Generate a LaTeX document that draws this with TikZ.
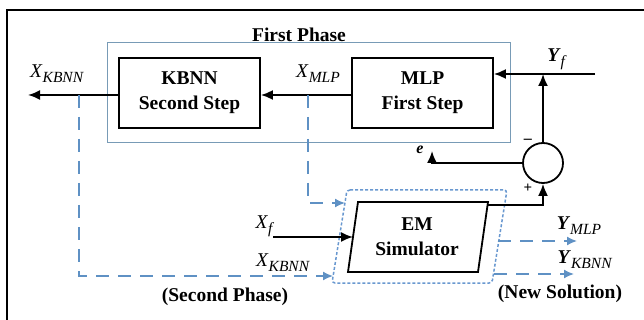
\documentclass[tikz,border=0pt]{standalone}
\usepackage{fontspec}
\setmainfont{Liberation Serif}
\usetikzlibrary{arrows.meta}
\definecolor{dblue}{RGB}{95,145,196}
\definecolor{pblue}{RGB}{120,155,182}
\definecolor{oblue}{RGB}{105,152,208}
\newcommand{\lblX}[2]{\textit{#1}\raisebox{-5pt}{\fontsize{15.5}{15}\selectfont\textit{#2}}}
\newcommand{\lblY}[2]{\textbf{\textit{#1}}\raisebox{-5pt}{\fontsize{15.5}{15}\selectfont\textit{#2}}}
\begin{document}
\begin{tikzpicture}[x=1pt,y=-1pt,
  blk/.style={draw=black,line width=1.8pt},
  boxnode/.style={draw=black,line width=1.8pt,minimum width=141pt,minimum height=70pt,align=center,inner sep=0pt,font=\fontsize{19.5}{25}\selectfont\bfseries},
  boldtxt/.style={align=center,inner sep=0pt,font=\fontsize{19.5}{25}\selectfont\bfseries},
  lab/.style={inner sep=0pt,font=\fontsize{19.5}{22}\selectfont},
  arr/.style={draw=black,line width=1.8pt,-{Latex[length=12pt,width=10pt]}},
  darr/.style={draw=dblue,line width=1.6pt,dash pattern=on 13pt off 9pt,-{Latex[length=10pt,width=9pt]}}]
\useasboundingbox (0,0) rectangle (644,320);
% frame
\draw[line width=2.2pt] (7,320) -- (7,10) -- (644,10);
% first phase box
\node[draw=pblue,line width=1pt,minimum width=403pt,minimum height=100pt,inner sep=0pt] (phase) at (308.5,93) {};
\node[boldtxt] (fptxt) at (299,35) {First Phase};
% blocks
\node[boxnode] (kbnn) at (189.5,93) {KBNN\\Second Step};
\node[boxnode] (mlp) at (422.5,93) {MLP\\First Step};
\node[draw=black,line width=1.8pt,circle,minimum size=40pt,inner sep=0pt] (sum) at (543,163) {};
% EM simulator parallelogram
\coordinate (emTL) at (358,202);
\coordinate (emTR) at (488,202);
\coordinate (emBR) at (478,272);
\coordinate (emBL) at (348,272);
\draw[blk] (emTL) -- (emTR) -- (emBR) -- (emBL) -- cycle;
\node[boldtxt] (em) at (417,237) {EM\\Simulator};
% dotted outline
\coordinate (oTL) at (347,190);
\coordinate (oTR) at (507,190);
\coordinate (oBR) at (492,283);
\coordinate (oBL) at (332,283);
\draw[draw=oblue,line width=1.5pt,dash pattern=on 3pt off 2pt,rounded corners=3pt] (oTL) -- (oTR) -- (oBR) -- (oBL) -- cycle;
% coordinates
\coordinate (xout) at (28,95);
\coordinate (yin) at (595,74);
\coordinate (jy) at (543,74);
\coordinate (eend) at (432,151);
\coordinate (emout) at (487.5,205);
\coordinate (xf) at (273,237);
\coordinate (emin) at (353,237);
\coordinate (dm) at (308,95);
\coordinate (dk) at (79,95);
\coordinate (din1) at (345,203);
\coordinate (din2) at (333,276);
\coordinate (dout1) at (498,241);
\coordinate (dout1e) at (577,241);
\coordinate (dout2) at (494,274);
\coordinate (dout2e) at (574,274);
% black connectors
\draw[arr] (mlp.west |- 0,95) -- (kbnn.east |- 0,95);
\draw[arr] (kbnn.west |- xout) -- (xout);
\draw[arr] (yin) -- (mlp.east |- yin);
\draw[arr] (sum.north) -- (jy);
\draw[arr] (sum.west) -| (eend);
\draw[arr] (emout) -| (sum.south);
\draw[arr] (xf) -- (emin);
% blue dashed
\draw[darr] (dm) |- (din1);
\draw[darr] (dk) |- (din2);
\draw[darr] (dout1) -- (dout1e);
\draw[darr] (dout2) -- (dout2e);
% labels
\node[lab] (lxk) at (57,74) {\lblX{X}{KBNN}};
\node[lab] (lxm) at (318,74) {\lblX{X}{MLP}};
\node[lab] (lyf) at (557,59) {\lblY{Y}{f}};
\node[inner sep=0pt,font=\fontsize{16}{16}\selectfont\bfseries\itshape] (le) at (420,150) {e};
\node[inner sep=0pt,font=\fontsize{16}{16}\selectfont] (lminus) at (528,141) {\textbf{--}};
\node[inner sep=0pt,font=\fontsize{15}{15}\selectfont\bfseries] (lplus) at (528,188) {+};
\node[lab] (lxf) at (265,226) {\lblX{X}{f}};
\node[lab] (lxk2) at (283,263) {\lblX{X}{KBNN}};
\node[boldtxt] (sp) at (225,297) {(Second Phase)};
\node[lab] (lym) at (579,226) {\lblY{Y}{MLP}};
\node[lab] (lyk) at (585,260) {\lblY{Y}{KBNN}};
\node[boldtxt] (ns) at (560,294) {(New Solution)};
\end{tikzpicture}
\end{document}
